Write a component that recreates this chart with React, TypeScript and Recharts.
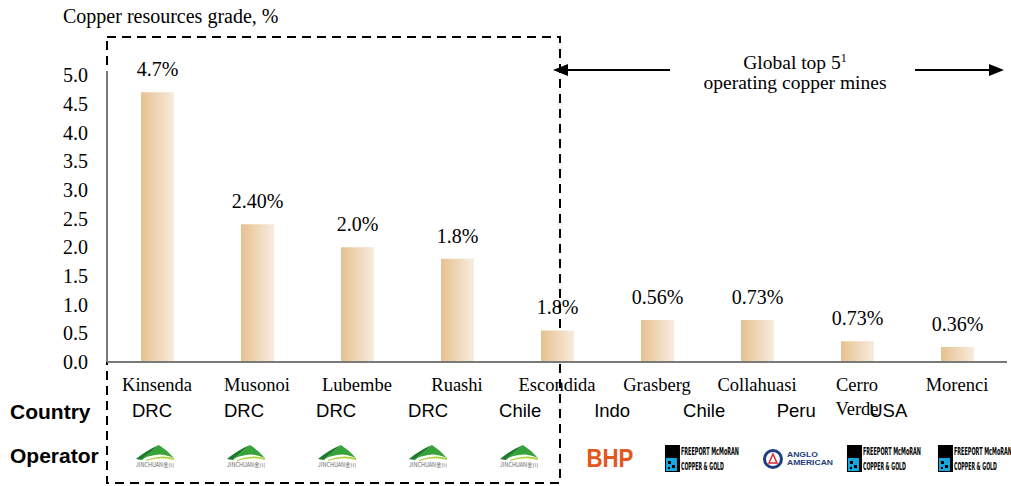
import React from "react";
import { BarChart, Bar, XAxis, YAxis, LabelList } from "recharts";

// values
const mines = ["Kinsenda", "Musonoi", "Lubembe", "Ruashi", "Escondida", "Grasberg", "Collahuasi", "Cerro\nVerde", "Morenci"];
const grades = [4.7, 2.4, 2.0, 1.8, 0.55, 0.73, 0.73, 0.36, 0.26];
const gradeLabels = ["4.7%", "2.40%", "2.0%", "1.8%", "1.8%", "0.56%", "0.73%", "0.73%", "0.36%"];
const countries = ["DRC", "DRC", "DRC", "DRC", "Chile", "Indo", "Chile", "Peru", "USA"];
const operators = ["jinchuan", "jinchuan", "jinchuan", "jinchuan", "jinchuan", "bhp", "freeport", "anglo", "freeport", "freeport"];
const yTicks = [0, 0.5, 1, 1.5, 2, 2.5, 3, 3.5, 4, 4.5, 5];

const data = mines.map((mine, i) => ({ mine, grade: grades[i], label: gradeLabels[i] }));

const SERIF = "'Liberation Serif', 'Times New Roman', serif";
const SANS = "'Liberation Sans', Arial, sans-serif";
const NARROW = "'Liberation Sans Narrow', 'DejaVu Sans Condensed', 'Liberation Sans', sans-serif";

// the two table rows sit on their own index axes, not on the bar categories
const noValue = () => undefined;

const NameTick = (props: any) => {
  const { x, y, payload } = props;
  const lines = String(payload.value).split("\n");
  return (
    <g>
      {lines.map((line, k) => (
        <text key={k} x={x} y={y + 28.5 + k * 24} textAnchor="middle" fontFamily={SERIF} fontSize={18.5} fill="#000">
          {line}
        </text>
      ))}
    </g>
  );
};

const CountryTick = (props: any) => {
  const { x, y, payload } = props;
  return (
    <text x={x} y={y + 25} textAnchor="middle" fontFamily={SANS} fontSize={18.5} fill="#000">
      {countries[payload.value]}
    </text>
  );
};

const Jinchuan = ({ cx, cy }: { cx: number; cy: number }) => (
  <g transform={`translate(${cx},${cy})`}>
    <path d="M -19 6 Q -8 -3 4 -8 Q -3 -2 -13 7 Z" fill="#1d7a2e" />
    <path d="M -15 7 Q -2 -3 4 -8 Q 12 -3 19 5 Q 8 0 0 2 Q -8 3 -15 7 Z" fill="#38a33a" />
    <path d="M -9 7 Q 5 1 19 5 L 19 7 Q 5 3 -9 8 Z" fill="#aed23a" />
    <text x={0} y={14} textAnchor="middle" fontFamily="'Noto Sans CJK SC', sans-serif" fontSize={5.5} fill="#666">
      JINCHUAN金川
    </text>
  </g>
);

const Freeport = ({ cx, cy }: { cx: number; cy: number }) => (
  <g transform={`translate(${cx},${cy})`}>
    <rect x={-36} y={-14} width={15} height={27} fill="#000" />
    <rect x={-35} y={-1} width={11} height={13} fill="#19a7e0" />
    <rect x={-33} y={2} width={3} height={3} fill="#000" />
    <rect x={-29} y={6} width={3} height={3} fill="#000" />
    <rect x={-33} y={8} width={2} height={2} fill="#000" />
    <text x={-20} y={-4} fontFamily={NARROW} fontWeight="bold" fontSize={10.5} textLength={58} lengthAdjust="spacingAndGlyphs" fill="#000">
      FREEPORT McMoRAN
    </text>
    <text x={-20} y={11} fontFamily={NARROW} fontWeight="bold" fontSize={10.5} textLength={43} lengthAdjust="spacingAndGlyphs" fill="#000">
      COPPER &amp; GOLD
    </text>
  </g>
);

const Anglo = ({ cx, cy }: { cx: number; cy: number }) => (
  <g transform={`translate(${cx},${cy})`}>
    <circle cx={-19} cy={0} r={8.5} fill="#fff" stroke="#1f3e7c" strokeWidth={3} />
    <path d="M -23 4 L -19 -5 L -15 4 Z" fill="#fff" stroke="#d8282f" strokeWidth={1.5} />
    <text x={-5} y={-2} fontFamily={SANS} fontWeight="bold" fontSize={8} textLength={31} lengthAdjust="spacingAndGlyphs" fill="#1f3e7c">
      ANGLO
    </text>
    <text x={-5} y={6} fontFamily={SANS} fontWeight="bold" fontSize={8} textLength={46} lengthAdjust="spacingAndGlyphs" fill="#1f3e7c">
      AMERICAN
    </text>
  </g>
);

const OperatorTick = (props: any) => {
  const { x, y, payload } = props;
  const kind = operators[payload.value];
  const cy = y + 31;
  if (kind === "bhp") {
    return (
      <text x={x} y={y + 39} textAnchor="middle" fontFamily={SANS} fontWeight="bold" fontSize={25} textLength={47} lengthAdjust="spacingAndGlyphs" fill="#e3571c">
        BHP
      </text>
    );
  }
  if (kind === "freeport") return <Freeport cx={x} cy={cy} />;
  if (kind === "anglo") return <Anglo cx={x} cy={cy} />;
  return <Jinchuan cx={x} cy={y + 25} />;
};

const GradeLabel = (props: any) => {
  const { x, y, width, value } = props;
  return (
    <text x={x + width / 2} y={y - 16} textAnchor="middle" fontFamily={SERIF} fontSize={20} fill="#000">
      {value}
    </text>
  );
};

const Annotations = () => (
  <svg width={1011} height={486} style={{ position: "absolute", left: 0, top: 0 }}>
    <text x={63} y={23} fontFamily={SERIF} fontSize={20} fill="#000">
      Copper resources grade, %
    </text>
    <rect x={107} y={37} width={453} height={446} fill="none" stroke="#000" strokeWidth={2} strokeDasharray="9 6" />
    <line x1={107} y1={71} x2={107} y2={76} stroke="#7a7a7a" strokeWidth={2} />
    <line x1={565} y1={70} x2={670} y2={70} stroke="#000" strokeWidth={2} />
    <polygon points="553,70 568,64 568,76" fill="#000" />
    <line x1={915} y1={70} x2={992} y2={70} stroke="#000" strokeWidth={2} />
    <polygon points="1004,70 989,64 989,76" fill="#000" />
    <text x={795} y={69} textAnchor="middle" fontFamily={SERIF} fontSize={19.5} fill="#000">
      Global top 5<tspan dy={-7} fontSize={12}>1</tspan>
    </text>
    <text x={795} y={89} textAnchor="middle" fontFamily={SERIF} fontSize={19.5} fill="#000">
      operating copper mines
    </text>
    <text x={10} y={419} fontFamily={SANS} fontWeight="bold" fontSize={21} fill="#000">
      Country
    </text>
    <text x={10} y={463} fontFamily={SANS} fontWeight="bold" fontSize={21} fill="#000">
      Operator
    </text>
  </svg>
);

const App: React.FC = () => {
  return (
    <div style={{ position: "absolute", left: 0, top: 0, width: 1011, height: 486, background: "#fff" }}>
      <Annotations />
      <div style={{ position: "absolute", left: 0, top: 0 }}>
        <BarChart width={1011} height={486} data={data} margin={{ top: 75, right: 4, left: 0, bottom: 0 }}>
          <defs>
            <linearGradient id="barFill" x1="0" y1="0" x2="1" y2="0">
              <stop offset="0%" stopColor="#e7c190" />
              <stop offset="100%" stopColor="#f7ecdf" />
            </linearGradient>
          </defs>
          <YAxis
            width={107}
            domain={[0, 5]}
            ticks={yTicks}
            interval={0}
            tickFormatter={(v: number) => v.toFixed(1)}
            axisLine={{ stroke: "#7a7a7a", strokeWidth: 2 }}
            tickLine={false}
            tickSize={0}
            tickMargin={19}
            tick={{ fontFamily: SERIF, fontSize: 20, fill: "#000" }}
          />
          <XAxis
            dataKey="mine"
            height={30}
            interval={0}
            axisLine={{ stroke: "#7a7a7a", strokeWidth: 2 }}
            tickLine={false}
            tickSize={0}
            tickMargin={0}
            tick={<NameTick />}
          />
          <XAxis
            xAxisId="country"
            type="number"
            dataKey={noValue}
            domain={[-0.489, 9.29]}
            allowDataOverflow
            ticks={countries.map((_, i) => i)}
            interval={0}
            height={36}
            axisLine={false}
            tickLine={false}
            tickSize={0}
            tickMargin={0}
            tick={<CountryTick />}
          />
          <XAxis
            xAxisId="operator"
            type="number"
            dataKey={noValue}
            domain={[-0.527, 9.363]}
            allowDataOverflow
            ticks={operators.map((_, i) => i)}
            interval={0}
            height={58}
            axisLine={false}
            tickLine={false}
            tickSize={0}
            tickMargin={0}
            tick={<OperatorTick />}
          />
          <Bar dataKey="grade" fill="url(#barFill)" barSize={33} isAnimationActive={false}>
            <LabelList dataKey="label" content={<GradeLabel />} />
          </Bar>
        </BarChart>
      </div>
    </div>
  );
};

export default App;
